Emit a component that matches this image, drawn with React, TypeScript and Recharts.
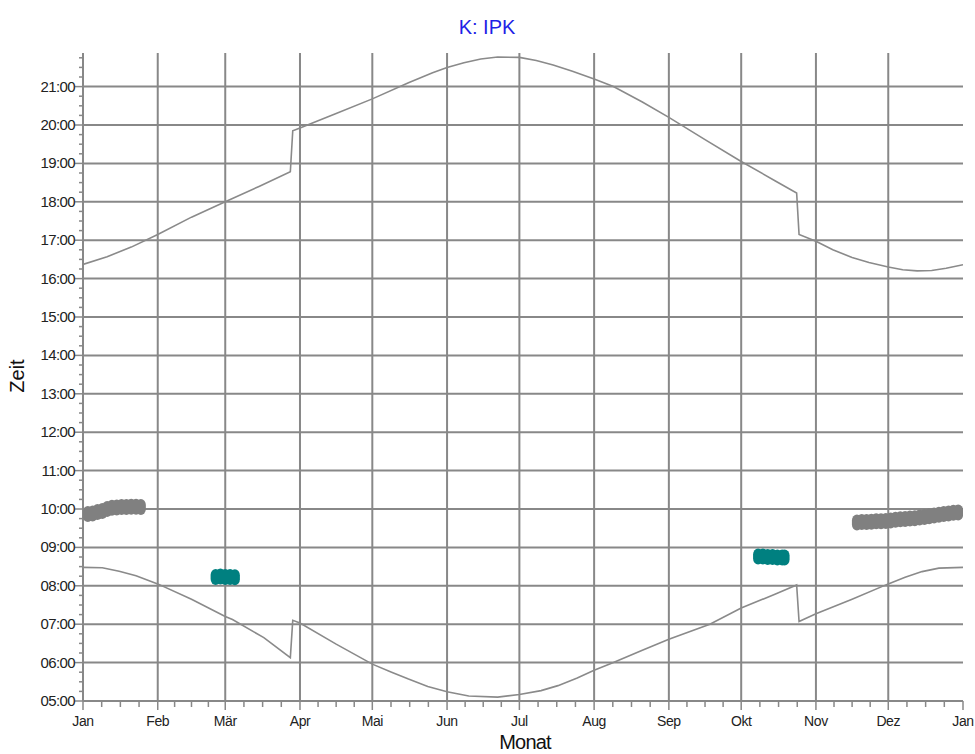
import React from "react";
import {
  ComposedChart,
  Line,
  Scatter,
  XAxis,
  YAxis,
  ReferenceLine,
} from "recharts";

// day of year -> time of day in hours
const sunsetData = [
  { day: 0, time: 16.37 }, { day: 10, time: 16.57 }, { day: 20, time: 16.82 },
  { day: 31, time: 17.15 }, { day: 45, time: 17.6 }, { day: 59, time: 18.0 },
  { day: 73, time: 18.4 }, { day: 86, time: 18.78 }, { day: 87, time: 19.85 },
  { day: 90, time: 19.92 }, { day: 105, time: 20.3 }, { day: 120, time: 20.68 },
  { day: 135, time: 21.1 }, { day: 145, time: 21.36 }, { day: 151, time: 21.5 },
  { day: 158, time: 21.62 }, { day: 165, time: 21.72 }, { day: 172, time: 21.77 },
  { day: 181, time: 21.76 }, { day: 188, time: 21.68 }, { day: 195, time: 21.56 },
  { day: 203, time: 21.4 }, { day: 212, time: 21.2 }, { day: 220, time: 21.0 },
  { day: 232, time: 20.6 }, { day: 243, time: 20.2 }, { day: 258, time: 19.62 },
  { day: 273, time: 19.05 }, { day: 287, time: 18.55 }, { day: 296, time: 18.23 },
  { day: 297, time: 17.15 }, { day: 304, time: 16.97 }, { day: 311, time: 16.75 },
  { day: 319, time: 16.55 }, { day: 326, time: 16.42 }, { day: 334, time: 16.3 },
  { day: 340, time: 16.23 }, { day: 346, time: 16.2 }, { day: 352, time: 16.21 },
  { day: 358, time: 16.27 }, { day: 365, time: 16.36 },
];

const sunriseData = [
  { day: 0, time: 8.48 }, { day: 8, time: 8.47 }, { day: 15, time: 8.38 },
  { day: 22, time: 8.26 }, { day: 31, time: 8.05 }, { day: 45, time: 7.65 },
  { day: 59, time: 7.2 }, { day: 62, time: 7.12 }, { day: 75, time: 6.65 },
  { day: 86, time: 6.13 }, { day: 87, time: 7.1 }, { day: 90, time: 7.03 },
  { day: 105, time: 6.48 }, { day: 120, time: 5.96 }, { day: 128, time: 5.75 },
  { day: 135, time: 5.57 }, { day: 143, time: 5.38 }, { day: 151, time: 5.24 },
  { day: 160, time: 5.13 }, { day: 172, time: 5.1 }, { day: 181, time: 5.17 },
  { day: 190, time: 5.27 }, { day: 197, time: 5.4 }, { day: 205, time: 5.6 },
  { day: 212, time: 5.8 }, { day: 220, time: 6.0 }, { day: 232, time: 6.32 },
  { day: 243, time: 6.61 }, { day: 260, time: 7.0 }, { day: 273, time: 7.42 },
  { day: 287, time: 7.78 }, { day: 296, time: 8.02 }, { day: 297, time: 7.07 },
  { day: 304, time: 7.27 }, { day: 319, time: 7.65 }, { day: 334, time: 8.05 },
  { day: 341, time: 8.22 }, { day: 348, time: 8.37 }, { day: 355, time: 8.46 },
  { day: 365, time: 8.48 },
];

const grayBlobJan = [
  { day: 2, time: 9.87 }, { day: 4, time: 9.88 }, { day: 6, time: 9.92 },
  { day: 8, time: 9.95 }, { day: 10, time: 10.0 }, { day: 12, time: 10.03 },
  { day: 14, time: 10.04 }, { day: 16, time: 10.05 }, { day: 18, time: 10.05 },
  { day: 20, time: 10.06 }, { day: 22, time: 10.06 }, { day: 24, time: 10.05 },
];

const grayBlobDec = [
  { day: 321, time: 9.65 }, { day: 323, time: 9.66 }, { day: 325, time: 9.66 },
  { day: 327, time: 9.67 }, { day: 329, time: 9.68 }, { day: 331, time: 9.68 },
  { day: 333, time: 9.69 }, { day: 335, time: 9.7 }, { day: 337, time: 9.72 },
  { day: 339, time: 9.73 }, { day: 341, time: 9.74 }, { day: 343, time: 9.75 },
  { day: 345, time: 9.76 }, { day: 347, time: 9.78 }, { day: 349, time: 9.79 },
  { day: 351, time: 9.81 }, { day: 353, time: 9.83 }, { day: 355, time: 9.85 },
  { day: 357, time: 9.87 }, { day: 359, time: 9.88 }, { day: 361, time: 9.9 },
  { day: 363, time: 9.91 },
];

const tealBlobMar = [
  { day: 55, time: 8.23 }, { day: 57, time: 8.24 }, { day: 59, time: 8.23 },
  { day: 61, time: 8.23 }, { day: 63, time: 8.22 },
];

const tealBlobOct = [
  { day: 280, time: 8.76 }, { day: 282, time: 8.76 }, { day: 284, time: 8.75 },
  { day: 286, time: 8.75 }, { day: 288, time: 8.74 }, { day: 290, time: 8.74 },
  { day: 291, time: 8.74 },
];

const monthDays = [0, 31, 59, 90, 120, 151, 181, 212, 243, 273, 304, 334, 365];
const monthLabels = ["Jan", "Feb", "Mär", "Apr", "Mai", "Jun", "Jul", "Aug", "Sep", "Okt", "Nov", "Dez", "Jan"];

const hourTicks = [5, 6, 7, 8, 9, 10, 11, 12, 13, 14, 15, 16, 17, 18, 19, 20, 21];

// minor ticks: month split in quarters, hour split in 15 min
const xTicks: number[] = [];
monthDays.forEach((d, i) => {
  xTicks.push(d);
  if (i < monthDays.length - 1) {
    const step = (monthDays[i + 1] - d) / 4;
    for (let k = 1; k < 4; k++) xTicks.push(d + step * k);
  }
});
const yTicks: number[] = [];
for (let t = 5; t <= 21.75; t += 0.25) yTicks.push(t);

const GRID = "#888888";
const FONT = "'Liberation Sans', Arial, sans-serif";

function MonthTick({ x, y, payload }: any) {
  const idx = monthDays.indexOf(payload.value);
  const major = idx >= 0;
  return (
    <g>
      <line x1={x} x2={x} y1={y} y2={y + (major ? 9 : 6)} stroke={GRID} strokeWidth={1.5} />
      {major && (
        <text x={x} y={y + 25} textAnchor="middle" fontSize={14} fontFamily={FONT} fill="#222" letterSpacing={-0.4}>
          {monthLabels[idx]}
        </text>
      )}
    </g>
  );
}

function HourTick({ x, y, payload }: any) {
  const v = payload.value;
  const major = Math.abs(v - Math.round(v)) < 1e-6;
  return (
    <g>
      <line x1={x - (major ? 8 : 4)} x2={x} y1={y} y2={y} stroke={GRID} strokeWidth={1.5} />
      {major && (
        <text x={x - 8} y={y + 5} textAnchor="end" fontSize={15} fontFamily={FONT} fill="#222" letterSpacing={-0.6}>
          {String(Math.round(v)).padStart(2, "0") + ":00"}
        </text>
      )}
    </g>
  );
}

const blob = (color: string) => (props: any) => (
  <rect x={props.cx - 5} y={props.cy - 8} width={10} height={16} rx={5} ry={6} fill={color} />
);

export default function App() {
  return (
    <div style={{ position: "absolute", left: 0, top: 0, width: 975, height: 754, background: "#fff" }}>
      <ComposedChart width={975} height={754} margin={{ top: 53, right: 12, left: 0, bottom: 0 }}>
        <XAxis
          dataKey="day"
          type="number"
          domain={[0, 365]}
          ticks={xTicks}
          interval={0}
          tickLine={false}
          tickSize={0}
          tickMargin={0}
          height={53}
          axisLine={{ stroke: GRID, strokeWidth: 2 }}
          tick={<MonthTick />}
          allowDataOverflow
        />
        <YAxis
          dataKey="time"
          type="number"
          domain={[5, 21.875]}
          ticks={yTicks}
          interval={0}
          tickLine={false}
          tickSize={0}
          tickMargin={0}
          width={83}
          axisLine={{ stroke: GRID, strokeWidth: 2 }}
          tick={<HourTick />}
          allowDataOverflow
        />
        {hourTicks.slice(1).map((h) => (
          <ReferenceLine key={"h" + h} y={h} stroke={GRID} strokeWidth={2} />
        ))}
        {monthDays.slice(1, -1).map((d) => (
          <ReferenceLine key={"m" + d} x={d} stroke={GRID} strokeWidth={2} />
        ))}
        <Line data={sunsetData} dataKey="time" type="linear" stroke="#8a8a8a" strokeWidth={1.6} dot={false} isAnimationActive={false} />
        <Line data={sunriseData} dataKey="time" type="linear" stroke="#8a8a8a" strokeWidth={1.6} dot={false} isAnimationActive={false} />
        <Scatter data={grayBlobJan} dataKey="time" shape={blob("#808080")} isAnimationActive={false} />
        <Scatter data={grayBlobDec} dataKey="time" shape={blob("#808080")} isAnimationActive={false} />
        <Scatter data={tealBlobMar} dataKey="time" shape={blob("#008080")} isAnimationActive={false} />
        <Scatter data={tealBlobOct} dataKey="time" shape={blob("#008080")} isAnimationActive={false} />
      </ComposedChart>
      <svg width={975} height={754} style={{ position: "absolute", left: 0, top: 0, pointerEvents: "none" }}>
        <text x={487} y={34} textAnchor="middle" fontSize={20} fontFamily={FONT} fill="#1f1fe6">
          K: IPK
        </text>
        <text x={525} y={749} textAnchor="middle" fontSize={20} fontFamily={FONT} fill="#111" letterSpacing={-0.8}>
          Monat
        </text>
        <text transform="translate(24 376) rotate(-90)" textAnchor="middle" fontSize={20} fontFamily={FONT} fill="#111">
          Zeit
        </text>
      </svg>
    </div>
  );
}
